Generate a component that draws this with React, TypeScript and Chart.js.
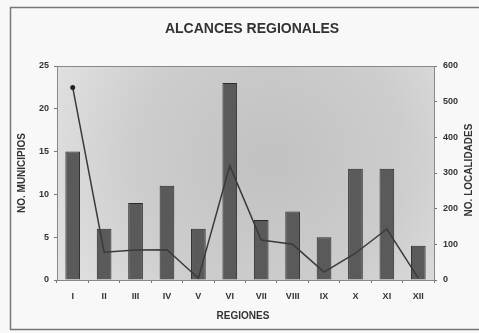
import React, { useEffect, useRef } from "react";
import { Chart, registerables } from "chart.js";

Chart.register(...registerables);

const regiones = ["I", "II", "III", "IV", "V", "VI", "VII", "VIII", "IX", "X", "XI", "XII"];
const municipios = [15, 6, 9, 11, 6, 23, 7, 8, 5, 13, 13, 4];
const localidades = [540, 78, 84, 85, 5, 320, 112, 100, 22, 75, 143, 5];

const titleText = "ALCANCES REGIONALES";
const leftTitle = "NO. MUNICIPIOS";
const rightTitle = "NO. LOCALIDADES";
const bottomTitle = "REGIONES";

const FONT = "'Liberation Sans', Arial, sans-serif";

const decorPlugin = {
  id: "decor",
  beforeDraw(chart: any) {
    const { ctx, chartArea } = chart;
    const { left, top, right, bottom } = chartArea;
    ctx.save();
    ctx.fillStyle = "#f8f8f8";
    ctx.fillRect(0, 0, chart.width, chart.height);
    ctx.strokeStyle = "#777";
    ctx.lineWidth = 1.5;
    ctx.strokeRect(10.5, 7.5, chart.width - 9, 322);
    const g = ctx.createRadialGradient(270, 160, 10, 270, 160, 240);
    g.addColorStop(0, "#c2c2c2");
    g.addColorStop(0.55, "#cdcdcd");
    g.addColorStop(1, "#e2e2e2");
    ctx.fillStyle = g;
    ctx.fillRect(left, top, right - left, bottom - top);
    ctx.restore();
  },
  afterDraw(chart: any) {
    const { ctx, chartArea } = chart;
    const { left, top, right, bottom } = chartArea;
    ctx.save();
    ctx.strokeStyle = "#888";
    ctx.lineWidth = 1;
    ctx.strokeRect(left + 0.5, top + 0.5, right - left, bottom - top);
    ctx.fillStyle = "#333";
    ctx.textAlign = "center";
    ctx.textBaseline = "middle";
    ctx.font = `bold 14px ${FONT}`;
    ctx.fillText(titleText, 252, 29);
    ctx.font = `bold 10px ${FONT}`;
    ctx.fillText(bottomTitle, 243, 316);
    ctx.save();
    ctx.translate(22, (top + bottom) / 2);
    ctx.rotate(-Math.PI / 2);
    ctx.fillText(leftTitle, 0, 0);
    ctx.restore();
    ctx.save();
    ctx.translate(469, 170);
    ctx.rotate(-Math.PI / 2);
    ctx.fillText(rightTitle, 0, 0);
    ctx.restore();
    ctx.restore();
  },
};

export default function App() {
  const ref = useRef<HTMLCanvasElement>(null);
  useEffect(() => {
    document.body.style.margin = "0";
    const tickFont = { size: 9, weight: "bold" as const, family: FONT };
    const chart = new Chart(ref.current!, {
      type: "bar",
      data: {
        labels: regiones,
        datasets: [
          {
            type: "line",
            label: "Localidades",
            data: localidades,
            yAxisID: "y1",
            borderColor: "#3a3a3a",
            borderWidth: 1.5,
            pointRadius: [2.5, 0, 0, 0, 0, 0, 0, 0, 0, 0, 0, 0],
            pointBackgroundColor: "#222",
            pointBorderWidth: 0,
            tension: 0,
            order: 0,
          } as any,
          {
            type: "bar",
            label: "Municipios",
            data: municipios,
            yAxisID: "y",
            backgroundColor: "#5a5a5a",
            borderColor: "#2a2a2a",
            borderWidth: 1,
            barPercentage: 0.85,
            categoryPercentage: 0.55,
            order: 1,
          },
        ],
      },
      options: {
        responsive: false,
        animation: false,
        layout: { padding: { top: 66, left: 0, right: 0, bottom: 0 } },
        plugins: { legend: { display: false }, tooltip: { enabled: false } },
        scales: {
          x: {
            grid: { display: true, drawOnChartArea: false, offset: true, tickLength: 3, color: "#777" },
            border: { display: false },
            ticks: { color: "#333", font: tickFont, padding: 8, maxRotation: 0 },
            afterFit(s: any) { s.height = 53; },
          },
          y: {
            position: "left",
            min: 0,
            max: 25,
            ticks: { stepSize: 5, color: "#333", font: tickFont, padding: 5 },
            grid: { drawOnChartArea: false, tickLength: 3, color: "#777" },
            border: { display: false },
            afterFit(s: any) { s.width = 57; },
          },
          y1: {
            position: "right",
            min: 0,
            max: 600,
            ticks: { stepSize: 100, color: "#333", font: tickFont, padding: 6 },
            grid: { drawOnChartArea: false, tickLength: 3, color: "#777" },
            border: { display: false },
            afterFit(s: any) { s.width = 45; },
          },
        },
      },
      plugins: [decorPlugin],
    });
    return () => chart.destroy();
  }, []);
  return <canvas ref={ref} width={479} height={333} style={{ display: "block" }} />;
}
